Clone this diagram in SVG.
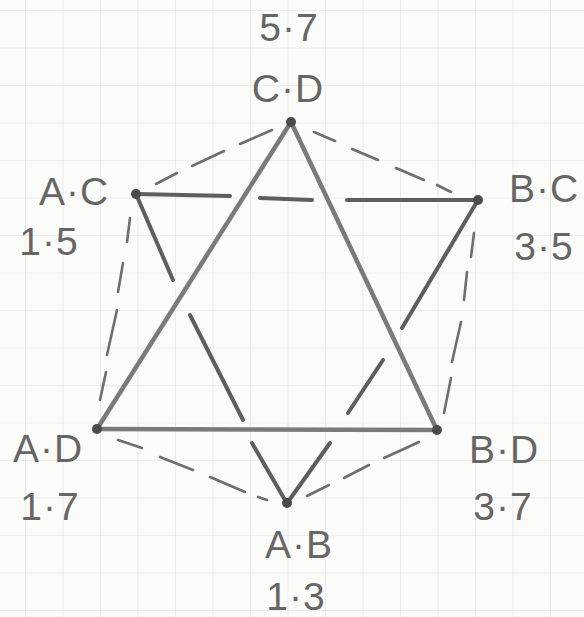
<svg xmlns="http://www.w3.org/2000/svg" width="584" height="617" viewBox="0 0 584 617">
  <defs>
    <pattern id="grid" x="25" y="10" width="37.5" height="37.5" patternUnits="userSpaceOnUse">
      <path d="M0 0 V37.5 M0 0 H37.5" fill="none" stroke="#e0e0e0" stroke-width="1.2"/>
    </pattern>
  </defs>
  <style>
    .lbl { font-family: "Liberation Sans", Arial, sans-serif; font-size: 39px; fill: #666666; text-anchor: middle; letter-spacing: 1px; }
    .tri { stroke: #7a7a7a; stroke-width: 4.5; stroke-linecap: round; fill: none; }
    .tri2 { stroke: #5e5e5e; stroke-width: 4; stroke-linecap: round; fill: none; }
    .dash { stroke: #6e6e6e; stroke-width: 2.6; stroke-linecap: round; fill: none; }
    .dot { fill: #4a4a4a; }
  </style>
  <rect width="584" height="617" fill="#fbfbfa"/>
  <rect width="584" height="617" fill="url(#grid)"/>

  <g id="connectors">
    <!-- solid triangle C·D, A·D, B·D -->
    <line class="tri" x1="291" y1="122" x2="97" y2="429"/>
    <line class="tri" x1="291" y1="122" x2="437" y2="430"/>
    <line class="tri" x1="97" y1="429" x2="437" y2="430"/>
    <!-- broken triangle A·C, B·C, A·B -->
    <line class="tri2" x1="136" y1="194" x2="230" y2="196"/>
    <line class="tri2" x1="260" y1="198" x2="312" y2="200"/>
    <line class="tri2" x1="347" y1="200" x2="478" y2="200"/>
    <line class="tri2" x1="136" y1="194" x2="173" y2="280"/>
    <line class="tri2" x1="190" y1="315" x2="243" y2="420"/>
    <line class="tri2" x1="252" y1="443" x2="285" y2="500"/>
    <line class="tri2" x1="478" y1="200" x2="402" y2="328"/>
    <line class="tri2" x1="383" y1="360" x2="348" y2="413"/>
    <line class="tri2" x1="330" y1="443" x2="290" y2="499"/>
    <!-- dashed hexagon -->
    <line class="dash" x1="272" y1="130" x2="240" y2="144"/>
    <line class="dash" x1="224" y1="151" x2="192" y2="166"/>
    <line class="dash" x1="177" y1="173" x2="156" y2="184"/>
    <line class="dash" x1="314" y1="132" x2="335" y2="141"/>
    <line class="dash" x1="352" y1="149" x2="378" y2="160"/>
    <line class="dash" x1="396" y1="168" x2="424" y2="180"/>
    <line class="dash" x1="437" y1="185" x2="451" y2="192"/>
    <line class="dash" x1="130" y1="218" x2="127" y2="242"/>
    <line class="dash" x1="123" y1="263" x2="118" y2="292"/>
    <line class="dash" x1="117" y1="310" x2="107" y2="355"/>
    <line class="dash" x1="106" y1="372" x2="100" y2="400"/>
    <line class="dash" x1="474" y1="233" x2="471" y2="257"/>
    <line class="dash" x1="467" y1="272" x2="464" y2="300"/>
    <line class="dash" x1="461" y1="322" x2="452" y2="362"/>
    <line class="dash" x1="451" y1="378" x2="444" y2="413"/>
    <line class="dash" x1="118" y1="440" x2="142" y2="448"/>
    <line class="dash" x1="160" y1="457" x2="193" y2="470"/>
    <line class="dash" x1="210" y1="477" x2="245" y2="492"/>
    <line class="dash" x1="258" y1="497" x2="267" y2="500"/>
    <line class="dash" x1="419" y1="442" x2="384" y2="458"/>
    <line class="dash" x1="369" y1="465" x2="344" y2="478"/>
    <line class="dash" x1="329" y1="485" x2="307" y2="496"/>
  </g>

  <g id="node-CD">
    <circle class="dot" cx="291" cy="122" r="5"/>
    <text class="lbl" x="288" y="102">C·D</text>
    <text class="lbl" x="289" y="41">5·7</text>
  </g>
  <g id="node-AC">
    <circle class="dot" cx="136" cy="194" r="5"/>
    <text class="lbl" x="74" y="205">A·C</text>
    <text class="lbl" x="49" y="255">1·5</text>
  </g>
  <g id="node-BC">
    <circle class="dot" cx="478" cy="200" r="5"/>
    <text class="lbl" x="544" y="202">B·C</text>
    <text class="lbl" x="544" y="260">3·5</text>
  </g>
  <g id="node-AD">
    <circle class="dot" cx="97" cy="429" r="5"/>
    <text class="lbl" x="48" y="462">A·D</text>
    <text class="lbl" x="50" y="520">1·7</text>
  </g>
  <g id="node-BD">
    <circle class="dot" cx="437" cy="430" r="5"/>
    <text class="lbl" x="504" y="463">B·D</text>
    <text class="lbl" x="503" y="520">3·7</text>
  </g>
  <g id="node-AB">
    <circle class="dot" cx="287" cy="503" r="5"/>
    <text class="lbl" x="299" y="558">A·B</text>
    <text class="lbl" x="296" y="610">1·3</text>
  </g>
</svg>
